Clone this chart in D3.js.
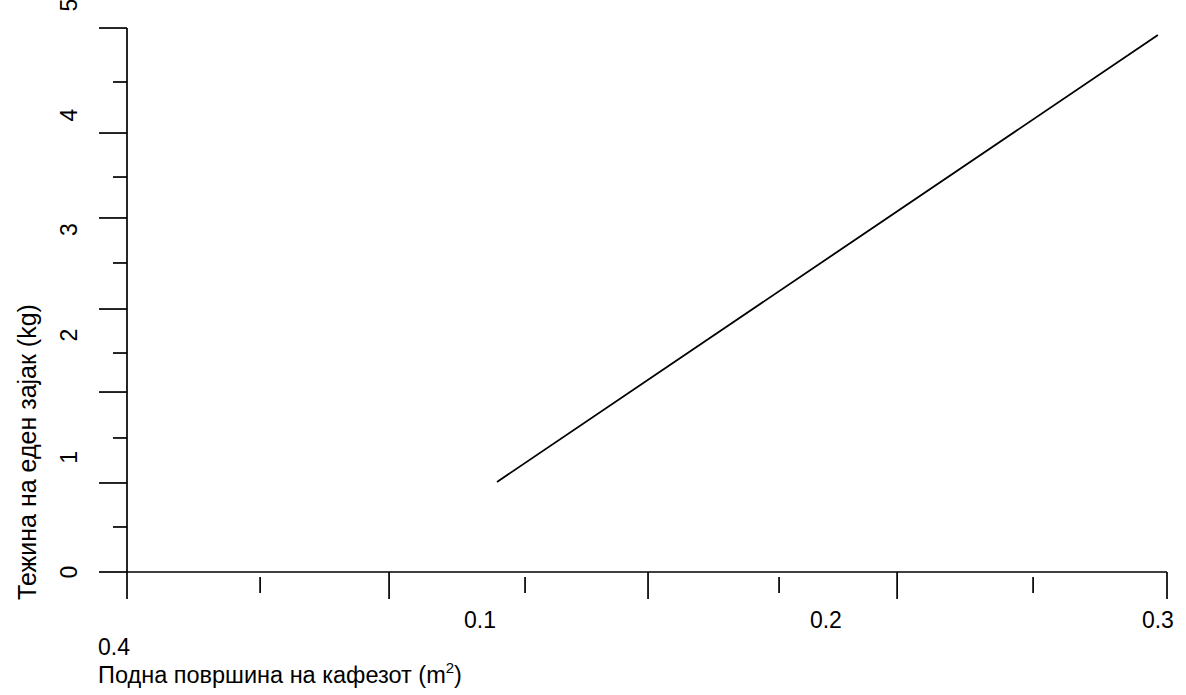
<!DOCTYPE html>
<html>
<head>
<meta charset="utf-8">
<script src="https://cdn.jsdelivr.net/npm/d3@7"></script>
<style>
  html, body { margin: 0; padding: 0; background: #fff; }
  svg text { font-family: "Liberation Sans", Arial, sans-serif; fill: #000; }
</style>
</head>
<body>
<svg id="chart" width="1186" height="695"></svg>
<script>
// ---- data ----
const xDomain = [0, 0.4];
const yDomain = [0, 5];
// line series (floor area m^2 -> weight per rabbit kg)
const seriesX = [0.1423, 0.3965];
const seriesY = [0.794, 4.735];
// x axis tick marks (as drawn) and which are major
const xTickVals = [0, 0.0512, 0.1008, 0.1531, 0.2004, 0.2508, 0.2962, 0.3485, 0.4];
const xTickMajor = [1, 0, 1, 0, 1, 0, 1, 0, 1];
// x tick labels as placed in the picture
const xLabelText = ["0.1", "0.2", "0.3"];
const xLabelAt = [0.1358, 0.2688, 0.3965];
const xExtraLabel = "0.4";
// y axis tick marks (as drawn) and which are major
const yTickVals = [0, 0.397, 0.785, 1.182, 1.587, 1.931, 2.319, 2.725, 3.122, 3.483, 3.871, 4.321, 4.797];
const yTickMajor = [1, 0, 1, 0, 1, 0, 1, 0, 1, 0, 1, 0, 1];
const yLabelText = ["0", "1", "2", "3", "4", "5"];
const yLabelAt = [0, 1.01, 2.09, 3.02, 4.03, 5];
const xTitle = "Подна површина на кафезот (m";
const yTitle = "Тежина на еден зајак (kg)";

// ---- layout ----
const svg = d3.select("#chart");
const x = d3.scaleLinear().domain(xDomain).range([127, 1167]);
const y = d3.scaleLinear().domain(yDomain).range([572, 5]);
const fs = 23;

// axis lines
svg.append("line")
  .attr("x1", x(0)).attr("x2", x(xTickVals[xTickVals.length - 1]))
  .attr("y1", y(0)).attr("y2", y(0))
  .attr("stroke", "#000").attr("stroke-width", 1.7);
svg.append("line")
  .attr("x1", x(0)).attr("x2", x(0))
  .attr("y1", y(0)).attr("y2", y(yTickVals[yTickVals.length - 1]))
  .attr("stroke", "#000").attr("stroke-width", 1.7);

// x ticks
svg.append("g").selectAll("line").data(xTickVals).join("line")
  .attr("x1", d => x(d)).attr("x2", d => x(d))
  .attr("y1", (d, i) => y(0) + (xTickMajor[i] ? 0 : 5))
  .attr("y2", (d, i) => y(0) + (xTickMajor[i] ? 27 : 21))
  .attr("stroke", "#000").attr("stroke-width", 1.7);

// y ticks
svg.append("g").selectAll("line").data(yTickVals).join("line")
  .attr("y1", d => y(d)).attr("y2", d => y(d))
  .attr("x1", x(0))
  .attr("x2", (d, i) => x(0) - (yTickMajor[i] ? 28 : 14))
  .attr("stroke", "#000").attr("stroke-width", 1.7);

// x labels
svg.append("g").selectAll("text").data(xLabelText).join("text")
  .attr("x", (d, i) => x(xLabelAt[i]))
  .attr("y", 628)
  .attr("text-anchor", "middle")
  .attr("font-size", fs)
  .text(d => d);
svg.append("text")
  .attr("x", 98).attr("y", 655)
  .attr("font-size", fs)
  .text(xExtraLabel);

// y labels (rotated)
svg.append("g").selectAll("text").data(yLabelText).join("text")
  .attr("transform", (d, i) => `translate(77,${y(yLabelAt[i])}) rotate(-90)`)
  .attr("text-anchor", "middle")
  .attr("font-size", fs)
  .text(d => d);

// titles
const xt = svg.append("text")
  .attr("x", 98).attr("y", 683)
  .attr("font-size", 23.5);
xt.append("tspan").text(xTitle);
xt.append("tspan").attr("font-size", 15).attr("dy", -10).text("2");
xt.append("tspan").attr("dy", 10).text(")");

svg.append("text")
  .attr("transform", `translate(36,452) rotate(-90)`)
  .attr("text-anchor", "middle")
  .attr("font-size", 25)
  .text(yTitle);

// data line
const line = d3.line().x(d => x(d[0])).y(d => y(d[1]));
svg.append("path")
  .datum(seriesX.map((v, i) => [v, seriesY[i]]))
  .attr("d", line)
  .attr("fill", "none")
  .attr("stroke", "#000")
  .attr("stroke-width", 1.8);
</script>
</body>
</html>
